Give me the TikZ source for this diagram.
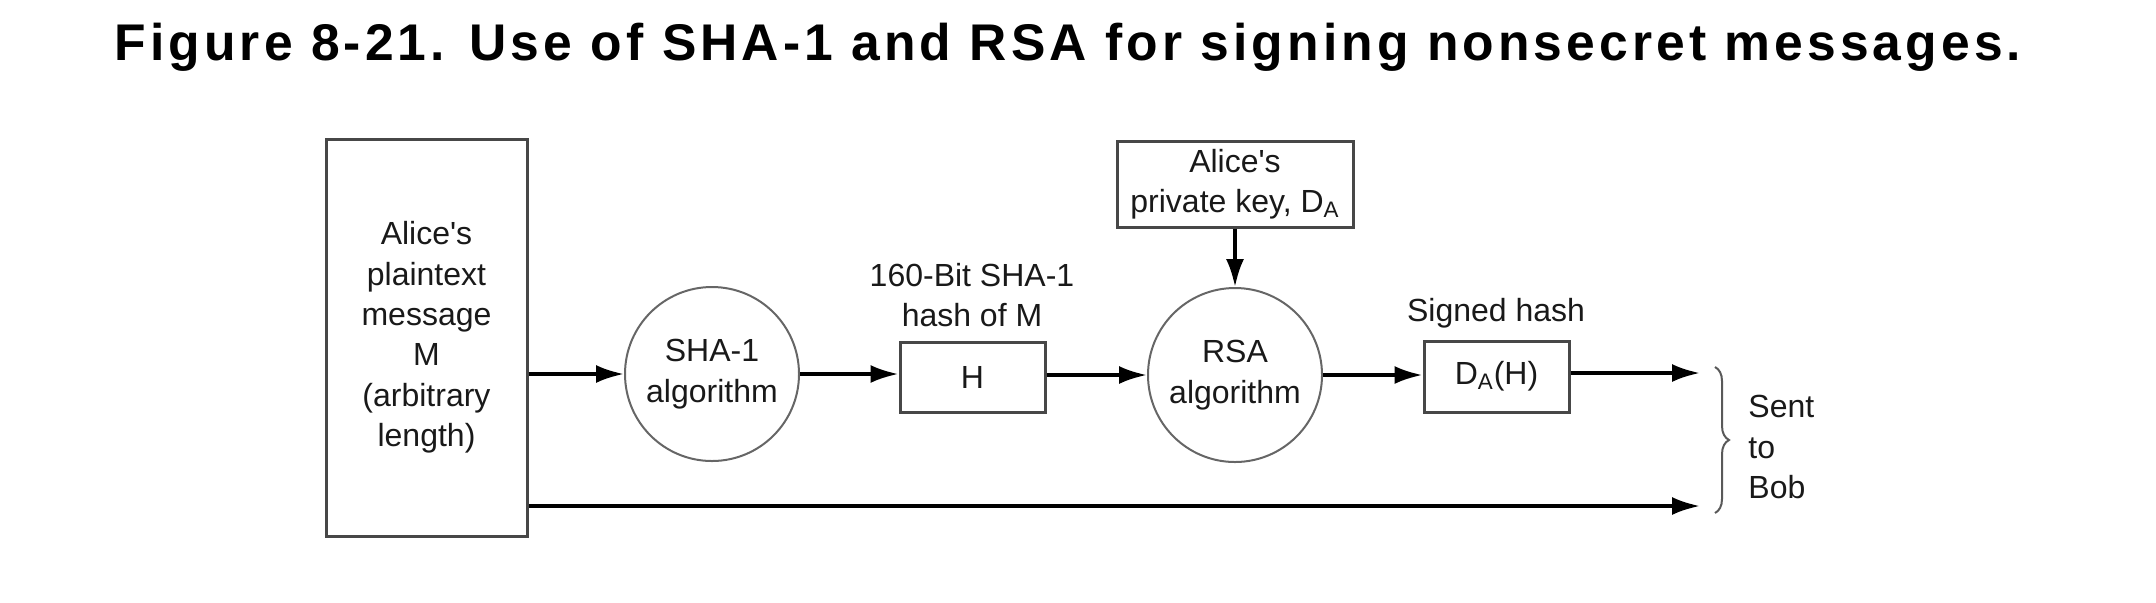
\documentclass[tikz,border=0pt]{standalone}
\usepackage{fontspec}
\setmainfont{Liberation Sans}
\newfontfamily\titlefont[LetterSpace=7.9]{Liberation Sans}
\usetikzlibrary{arrows.meta,decorations.pathreplacing}
\begin{document}
\begin{tikzpicture}[x=0.5pt,y=-0.5pt,
  txt/.style={font=\fontsize{16}{20.2}\selectfont, align=center, inner sep=0pt, text=black!90},
  box/.style={txt, draw=black!72, line width=1.5pt, rectangle},
  algo/.style={txt, draw=black!60, line width=1pt, circle, minimum size=87pt},
  arr/.style={line width=1.75pt, draw=black, -{Latex[length=14pt,width=9pt]}},
  bracestyle/.style={draw=black!65, line width=1pt, decorate, decoration={brace, amplitude=7pt}}]
\useasboundingbox (0,0) rectangle (2156,602);
\node[inner sep=0pt, anchor=base] (title) at (1068,60) {\titlefont\bfseries\fontsize{25.8}{30}\selectfont Figure 8-21. Use of SHA-1 and RSA for signing nonsecret messages.};
\node[box, minimum width=100.5pt, minimum height=198.5pt] (msg) at (426.5,337.5) {Alice\textquotesingle s\\plaintext\\message\\M\\(arbitrary\\length)};
\node[algo] (sha) at (712,374) {SHA-1\\algorithm};
\node[box, minimum width=72.5pt, minimum height=35pt] (h) at (972.5,377) {H};
\node[txt] (hlab) at (972,295) {160-Bit SHA-1\\hash of M};
\node[algo] (rsa) at (1235,375) {RSA\\algorithm};
\node[box, minimum width=118pt, minimum height=43pt] (key) at (1235,184) {Alice\textquotesingle s\\private key, D\textsubscript{A}};
\node[box, minimum width=72.5pt, minimum height=35.5pt] (dah) at (1496.5,376.5) {D\textsubscript{A}(H)};
\node[txt] (slab) at (1496,313) {Signed hash};
\node[txt, align=left, anchor=west] (sent) at (1748,447) {Sent\\to\\Bob};
\coordinate (t1) at (1700,373);
\coordinate (t2) at (1700,506);
\coordinate (b1) at (1715,367);
\coordinate (b2) at (1715,513);
\draw[arr] (msg.east |- sha.west) -- (sha.west);
\draw[arr] (sha.east) -- (h.west |- sha.east);
\draw[arr] (h.east |- rsa.west) -- (rsa.west);
\draw[arr] (key.south) -- (rsa.north);
\draw[arr] (rsa.east) -- (dah.west |- rsa.east);
\draw[arr] (dah.east |- t1) -- (t1);
\draw[arr] (msg.east |- t2) -- (t2);
\draw[bracestyle] (b1) -- (b2);
\end{tikzpicture}
\end{document}
